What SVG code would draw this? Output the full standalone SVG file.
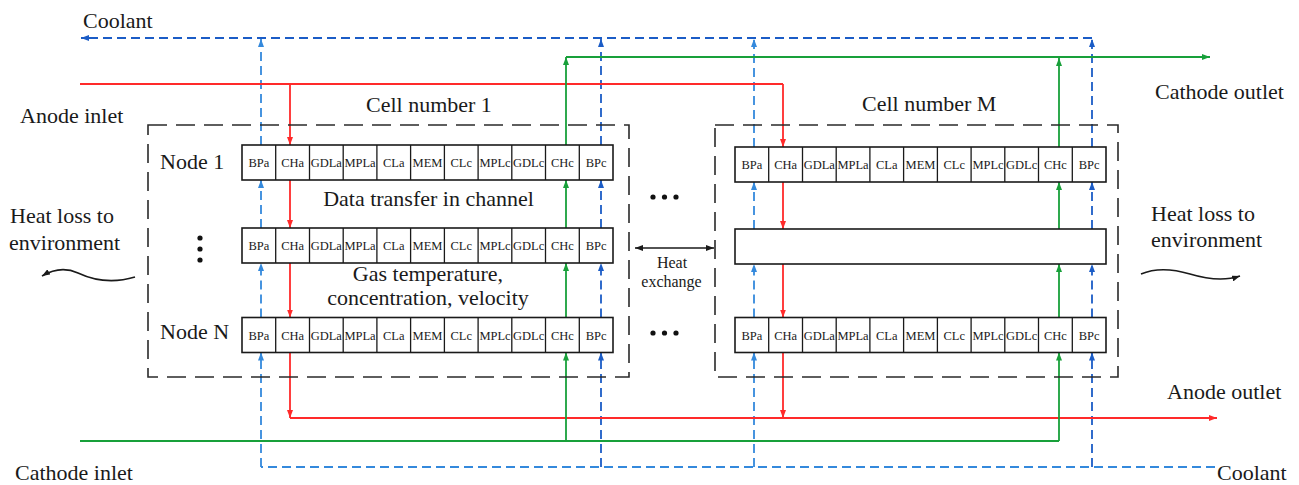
<svg xmlns="http://www.w3.org/2000/svg" xmlns:xlink="http://www.w3.org/1999/xlink" width="1299" height="485" viewBox="0 0 1299 485">
  <style>
    .lbl { font-family: "Liberation Serif", "Times New Roman", serif; font-size: 22px; fill: #1a1a1a; }
    .small { font-family: "Liberation Serif", "Times New Roman", serif; font-size: 16px; fill: #1a1a1a; }
    .layer { font-family: "Liberation Serif", "Times New Roman", serif; font-size: 12.5px; fill: #1a1a1a; text-anchor: middle; }
    .strip { fill: #ffffff; stroke: #1a1a1a; stroke-width: 1.6; }
    .sep { stroke: #1a1a1a; stroke-width: 1.3; }
    .cellbox { fill: none; stroke: #2a2a2a; stroke-width: 1.6; stroke-dasharray: 19 9; }
    .anode { fill: none; stroke: #ff2a2a; stroke-width: 1.8; }
    .cathode { fill: none; stroke: #18a03a; stroke-width: 1.8; }
    .coolA { fill: none; stroke: #3489dc; stroke-width: 1.8; stroke-dasharray: 9 5; }
    .coolC { fill: none; stroke: #1b5cc6; stroke-width: 1.8; stroke-dasharray: 9 5; }
    .black { fill: none; stroke: #1a1a1a; stroke-width: 1.6; }
    .dot { fill: #111111; }
  </style>
  <defs>
    <marker id="ah-red" viewBox="0 0 8 6" refX="8" refY="3" markerWidth="8" markerHeight="6" markerUnits="userSpaceOnUse" orient="auto"><path d="M0,0 L8,3 L0,6 z" fill="#ff2a2a"/></marker>
    <marker id="ah-green" viewBox="0 0 8 6" refX="8" refY="3" markerWidth="8" markerHeight="6" markerUnits="userSpaceOnUse" orient="auto"><path d="M0,0 L8,3 L0,6 z" fill="#18a03a"/></marker>
    <marker id="ah-blueA" viewBox="0 0 8 6" refX="8" refY="3" markerWidth="8" markerHeight="6" markerUnits="userSpaceOnUse" orient="auto"><path d="M0,0 L8,3 L0,6 z" fill="#3489dc"/></marker>
    <marker id="ah-blueC" viewBox="0 0 8 6" refX="8" refY="3" markerWidth="8" markerHeight="6" markerUnits="userSpaceOnUse" orient="auto"><path d="M0,0 L8,3 L0,6 z" fill="#1b5cc6"/></marker>
    <marker id="ah-black" viewBox="0 0 8 6" refX="8" refY="3" markerWidth="8" markerHeight="6" markerUnits="userSpaceOnUse" orient="auto-start-reverse"><path d="M0,0 L8,3 L0,6 z" fill="#1a1a1a"/></marker>

    <!-- one node: strip of 11 layers, 371 x 35 -->
    <g id="strip">
      <rect class="strip" x="0" y="0" width="371" height="35"/>
      <path class="sep" d="M33.7,0V35M67.5,0V35M101.2,0V35M134.9,0V35M168.6,0V35M202.4,0V35M236.1,0V35M269.8,0V35M303.5,0V35M337.3,0V35"/>
      <text class="layer" x="16.9" y="22">BPa</text>
      <text class="layer" x="50.6" y="22">CHa</text>
      <text class="layer" x="84.3" y="22">GDLa</text>
      <text class="layer" x="118.0" y="22">MPLa</text>
      <text class="layer" x="151.8" y="22">CLa</text>
      <text class="layer" x="185.5" y="22">MEM</text>
      <text class="layer" x="219.2" y="22">CLc</text>
      <text class="layer" x="253.0" y="22">MPLc</text>
      <text class="layer" x="286.7" y="22">GDLc</text>
      <text class="layer" x="320.4" y="22">CHc</text>
      <text class="layer" x="354.1" y="22">BPc</text>
    </g>
  </defs>

  <rect width="1299" height="485" fill="#ffffff"/>

  <!-- flow connectors -->
  <g id="connectors">
    <!-- coolant: inlet bottom right, outlet top left -->
    <path class="coolA" d="M1215,467 H261"/>
    <path class="coolC" d="M1092,38 H81" marker-end="url(#ah-blueC)"/>
    <!-- cell 1, BPa -->
    <path class="coolA" d="M261,467 V352.5" marker-end="url(#ah-blueA)"/>
    <path class="coolA" d="M261,317.5 V263" marker-end="url(#ah-blueA)"/>
    <path class="coolA" d="M261,228 V180" marker-end="url(#ah-blueA)"/>
    <path class="coolA" d="M261,145 V39" marker-end="url(#ah-blueA)"/>
    <!-- cell 1, BPc -->
    <path class="coolC" d="M601,467 V352.5" marker-end="url(#ah-blueC)"/>
    <path class="coolC" d="M601,317.5 V263" marker-end="url(#ah-blueC)"/>
    <path class="coolC" d="M601,228 V180" marker-end="url(#ah-blueC)"/>
    <path class="coolC" d="M601,145 V39" marker-end="url(#ah-blueC)"/>
    <!-- cell M, BPa -->
    <path class="coolA" d="M754,467 V352.5" marker-end="url(#ah-blueA)"/>
    <path class="coolA" d="M754,317.5 V264" marker-end="url(#ah-blueA)"/>
    <path class="coolA" d="M754,229 V182" marker-end="url(#ah-blueA)"/>
    <path class="coolA" d="M754,147 V39" marker-end="url(#ah-blueA)"/>
    <!-- cell M, BPc -->
    <path class="coolC" d="M1092,467 V352.5" marker-end="url(#ah-blueC)"/>
    <path class="coolC" d="M1092,317.5 V264" marker-end="url(#ah-blueC)"/>
    <path class="coolC" d="M1092,229 V182" marker-end="url(#ah-blueC)"/>
    <path class="coolC" d="M1092,147 V39" marker-end="url(#ah-blueC)"/>

    <!-- anode gas -->
    <path class="anode" d="M80,84 H783"/>
    <path class="anode" d="M290,84 V145" marker-end="url(#ah-red)"/>
    <path class="anode" d="M290,180 V228" marker-end="url(#ah-red)"/>
    <path class="anode" d="M290,263 V317.5" marker-end="url(#ah-red)"/>
    <path class="anode" d="M290,352.5 V418" marker-end="url(#ah-red)"/>
    <path class="anode" d="M783,84 V147" marker-end="url(#ah-red)"/>
    <path class="anode" d="M783,182 V229" marker-end="url(#ah-red)"/>
    <path class="anode" d="M783,264 V317.5" marker-end="url(#ah-red)"/>
    <path class="anode" d="M783,352.5 V418" marker-end="url(#ah-red)"/>
    <path class="anode" d="M290,418 H1217" marker-end="url(#ah-red)"/>

    <!-- cathode gas -->
    <path class="cathode" d="M80,441 H1059"/>
    <path class="cathode" d="M566,441 V352.5" marker-end="url(#ah-green)"/>
    <path class="cathode" d="M566,317.5 V263" marker-end="url(#ah-green)"/>
    <path class="cathode" d="M566,228 V180" marker-end="url(#ah-green)"/>
    <path class="cathode" d="M566,145 V57" marker-end="url(#ah-green)"/>
    <path class="cathode" d="M1059,441 V352.5" marker-end="url(#ah-green)"/>
    <path class="cathode" d="M1059,317.5 V264" marker-end="url(#ah-green)"/>
    <path class="cathode" d="M1059,229 V182" marker-end="url(#ah-green)"/>
    <path class="cathode" d="M1059,147 V58" marker-end="url(#ah-green)"/>
    <path class="cathode" d="M566,57 H1210" marker-end="url(#ah-green)"/>

    <!-- heat exchange between cells -->
    <path class="black" d="M635,248 H714" marker-start="url(#ah-black)" marker-end="url(#ah-black)"/>
    <!-- heat loss to environment -->
    <path class="black" d="M135,277 C115,283 95,281 78,273 C65,267 52,270 42,276" marker-end="url(#ah-black)"/>
    <path class="black" d="M1141,274 C1155,268 1170,268 1190,274 C1210,280 1225,281 1240,276" marker-end="url(#ah-black)"/>
  </g>

  <!-- cell number 1 -->
  <g id="cell-1">
    <rect class="cellbox" x="148" y="125" width="481" height="252"/>
    <text class="lbl" x="366" y="112">Cell number 1</text>
    <g id="cell-1-node-1">
      <use xlink:href="#strip" x="242" y="145"/>
      <text class="lbl" x="160" y="169">Node 1</text>
    </g>
    <g id="cell-1-node-k">
      <use xlink:href="#strip" x="242" y="228"/>
      <circle class="dot" cx="200" cy="238" r="2.6"/>
      <circle class="dot" cx="200" cy="249" r="2.6"/>
      <circle class="dot" cx="200" cy="260" r="2.6"/>
    </g>
    <g id="cell-1-node-n">
      <use xlink:href="#strip" x="242" y="317.5"/>
      <text class="lbl" x="160" y="339">Node N</text>
    </g>
    <text class="lbl" x="428.5" y="206" text-anchor="middle">Data transfer in channel</text>
    <text class="lbl" x="428" y="281" text-anchor="middle">Gas temperature,</text>
    <text class="lbl" x="428" y="305" text-anchor="middle">concentration, velocity</text>
  </g>

  <!-- cells in between -->
  <g id="cells-between">
    <circle class="dot" cx="653" cy="197" r="2.6"/>
    <circle class="dot" cx="664.5" cy="197" r="2.6"/>
    <circle class="dot" cx="676" cy="197" r="2.6"/>
    <circle class="dot" cx="653" cy="333" r="2.6"/>
    <circle class="dot" cx="664.5" cy="333" r="2.6"/>
    <circle class="dot" cx="676" cy="333" r="2.6"/>
    <text class="small" x="672" y="268" text-anchor="middle">Heat</text>
    <text class="small" x="671.5" y="287" text-anchor="middle">exchange</text>
  </g>

  <!-- cell number M -->
  <g id="cell-m">
    <rect class="cellbox" x="715" y="125" width="403" height="252"/>
    <text class="lbl" x="862" y="111">Cell number M</text>
    <g id="cell-m-node-1">
      <use xlink:href="#strip" x="735" y="147"/>
    </g>
    <g id="cell-m-node-k">
      <rect class="strip" x="735" y="229" width="371" height="35"/>
    </g>
    <g id="cell-m-node-n">
      <use xlink:href="#strip" x="735" y="317.5"/>
    </g>
  </g>

  <!-- port labels -->
  <g id="ports">
    <text class="lbl" x="83" y="28">Coolant</text>
    <text class="lbl" x="20" y="123">Anode inlet</text>
    <text class="lbl" x="1155" y="99">Cathode outlet</text>
    <text class="lbl" x="1167" y="399">Anode outlet</text>
    <text class="lbl" x="15" y="480">Cathode inlet</text>
    <text class="lbl" x="1217" y="480">Coolant</text>
  </g>

  <g id="heat-loss">
    <text class="lbl" x="10" y="223">Heat loss to</text>
    <text class="lbl" x="9" y="250">environment</text>
    <text class="lbl" x="1151" y="221">Heat loss to</text>
    <text class="lbl" x="1151" y="247">environment</text>
  </g>
</svg>
